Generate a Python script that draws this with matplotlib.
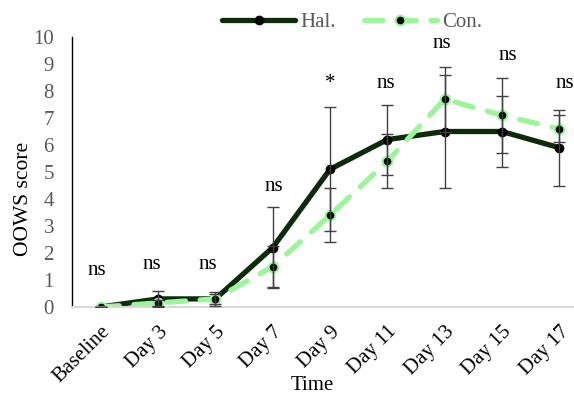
import matplotlib
matplotlib.use("Agg")
import matplotlib.pyplot as plt
import matplotlib.transforms as mtransforms

days = ["Baseline", "Day 3", "Day 5", "Day 7", "Day 9", "Day 11", "Day 13", "Day 15", "Day 17"]
hal = [0.0, 0.3, 0.3, 2.2, 5.1, 6.2, 6.5, 6.5, 5.9]
hal_err = [0.0, 0.3, 0.25, 1.5, 2.3, 1.3, 2.1, 1.3, 1.4]
con = [0.0, 0.15, 0.3, 1.5, 3.4, 5.4, 7.7, 7.1, 6.6]
con_err = [0.0, 0.1, 0.2, 0.75, 1.0, 1.0, 1.2, 1.4, 0.5]
signif = ["ns", "ns", "ns", "ns", "*", "ns", "ns", "ns", "ns"]
signif_x = [-0.07, 0.9, 1.87, 3.02, 4.0, 4.97, 5.95, 7.1, 8.1]
signif_y = [1.2, 1.4, 1.4, 4.3, 8.1, 8.1, 9.6, 9.15, 8.1]

plt.rcParams['font.family'] = ['Liberation Serif', 'DejaVu Serif']

HAL_C = '#0b2b0b'
CON_C = '#99f799'

fig = plt.figure(figsize=(5.74, 3.94), dpi=100)
ax = fig.add_axes([72/574, 1-307/394, 516/574, 270/394])

x = list(range(len(days)))

ax.errorbar(x, hal, yerr=hal_err, fmt='none', ecolor='#404040', elinewidth=1,
            capsize=4.3, capthick=1, zorder=3)
ax.errorbar(x, con, yerr=con_err, fmt='none', ecolor='#404040', elinewidth=1,
            capsize=4.3, capthick=1, zorder=3)

ax.plot(x, hal, color=HAL_C, lw=3.8, marker='o', ms=6, mfc='black', mec='black',
        solid_capstyle='round', label='Hal.', zorder=2)
l2, = ax.plot(x, con, color=CON_C, lw=3.8, marker='o', ms=7, mfc='black', mec=CON_C,
              mew=1.5, dash_capstyle='round', label='Con.', zorder=2.5)
l2.set_dashes((3.5, 2.8))

for xs, s, yy in zip(signif_x, signif, signif_y):
    ax.text(xs, yy, s, ha='center', va='baseline', fontsize=15, color='black', clip_on=False)

ax.set_xlim(-0.5, 8.5)
ax.set_ylim(0, 10)
ax.set_yticks(range(0, 11))
ax.set_xticks(x)
ax.set_xticklabels(days, rotation=45, ha='right', va='top', rotation_mode='anchor', fontsize=15)
shift = mtransforms.ScaledTranslation(3/100, 0, fig.dpi_scale_trans)
for lab in ax.get_xticklabels():
    lab.set_transform(lab.get_transform() + shift)
ax.tick_params(axis='y', length=0, pad=13, labelcolor='#595959', labelsize=15)
ax.tick_params(axis='x', length=0, pad=11, labelcolor='black')

for side in ['top', 'right']:
    ax.spines[side].set_visible(False)
ax.spines['left'].set_color('black')
ax.spines['left'].set_linewidth(1)
ax.spines['bottom'].set_color('#d9d9d9')
ax.spines['bottom'].set_linewidth(1.5)

ax.set_ylabel('OOWS score', fontsize=15.5)
ax.yaxis.set_label_coords(-0.076, 0.40)
fig.text(312/574, 1-386/394, 'Time', ha='center', va='center', fontsize=15)

leg = fig.legend(loc='center', bbox_to_anchor=(352/574, 1-22/394), ncol=2, frameon=False,
                 fontsize=15, handlelength=3.5, handletextpad=0.25, columnspacing=1.35)
for t in leg.get_texts():
    t.set_color('#595959')

fig.savefig('out.png', dpi=100)
